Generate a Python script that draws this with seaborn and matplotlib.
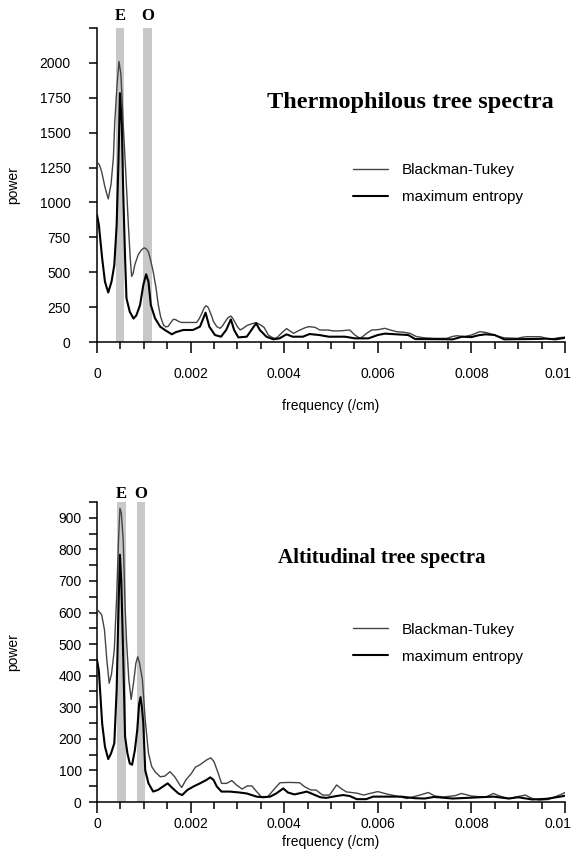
import matplotlib
matplotlib.use("Agg")
import matplotlib.pyplot as plt
from matplotlib.ticker import MultipleLocator, FuncFormatter
import numpy as np
import pandas as pd
import seaborn as sns

# ---- Thermophilous tree spectra ----
thermo_bt_freq = [0.00000, 0.00005, 0.00010, 0.00017, 0.00024, 0.00030, 0.00035, 0.00038, 0.00043, 0.00047,
                  0.00051, 0.00056, 0.00061, 0.00067, 0.00071, 0.00074, 0.00077, 0.00081, 0.00088, 0.00095,
                  0.00101, 0.00106, 0.00110, 0.00115, 0.00120, 0.00126, 0.00131, 0.00136, 0.00142, 0.00147,
                  0.00152, 0.00158, 0.00163, 0.00168, 0.00173, 0.00180, 0.00195, 0.00213, 0.00218, 0.00224,
                  0.00229, 0.00233, 0.00237, 0.00240, 0.00245, 0.00249, 0.00256, 0.00263, 0.00268, 0.00274,
                  0.00280, 0.00286, 0.00290, 0.00294, 0.00300, 0.00306, 0.00313, 0.00320, 0.00330, 0.00340,
                  0.00348, 0.00357, 0.00362, 0.00366, 0.00373, 0.00380, 0.00386, 0.00390, 0.00398, 0.00405,
                  0.00412, 0.00420, 0.00427, 0.00434, 0.00443, 0.00452, 0.00466, 0.00476, 0.00494, 0.00505,
                  0.00520, 0.00540, 0.00551, 0.00562, 0.00570, 0.00576, 0.00587, 0.00600, 0.00615, 0.00628,
                  0.00640, 0.00655, 0.00669, 0.00683, 0.00700, 0.00720, 0.00747, 0.00760, 0.00769, 0.00785,
                  0.00800, 0.00818, 0.00830, 0.00845, 0.00854, 0.00870, 0.00898, 0.00910, 0.00918, 0.00947,
                  0.00968, 0.00985, 0.01000]
thermo_bt_power = [1290, 1270, 1220, 1110, 1025, 1130, 1320, 1580, 1850, 2010,
                   1920, 1560, 1245, 840, 600, 470, 490, 555, 625, 660,
                   675, 665, 645, 580, 505, 390, 265, 180, 122, 108,
                   112, 140, 163, 160, 150, 140, 140, 140, 165, 205,
                   245, 260, 250, 229, 185, 146, 110, 98, 115, 146,
                   175, 186, 170, 146, 110, 86, 100, 117, 130, 139,
                   125, 105, 75, 50, 35, 26, 35, 50, 75, 96,
                   80, 62, 75, 86, 100, 110, 105, 86, 86, 79,
                   80, 86, 50, 26, 45, 62, 86, 88, 98, 85,
                   74, 70, 62, 38, 30, 26, 26, 40, 45, 38,
                   50, 74, 69, 55, 43, 30, 26, 35, 38, 38,
                   19, 30, 35]

thermo_me_freq = [0.00000, 0.00004, 0.00011, 0.00017, 0.00024, 0.00031, 0.00037, 0.00042, 0.00046, 0.00049,
                  0.00053, 0.00056, 0.00060, 0.00063, 0.00070, 0.00078, 0.00084, 0.00092, 0.00099, 0.00105,
                  0.00110, 0.00115, 0.00124, 0.00135, 0.00145, 0.00160, 0.00168, 0.00184, 0.00205, 0.00220,
                  0.00232, 0.00240, 0.00252, 0.00265, 0.00276, 0.00286, 0.00293, 0.00302, 0.00320, 0.00330,
                  0.00340, 0.00348, 0.00362, 0.00377, 0.00390, 0.00405, 0.00418, 0.00440, 0.00454, 0.00475,
                  0.00495, 0.00530, 0.00551, 0.00580, 0.00600, 0.00615, 0.00640, 0.00665, 0.00680, 0.00740,
                  0.00760, 0.00780, 0.00800, 0.00815, 0.00830, 0.00850, 0.00870, 0.00940, 0.00960, 0.00980,
                  0.01000]
thermo_me_power = [910, 839, 600, 432, 355, 432, 552, 839, 1317, 1783,
                   1556, 1077, 600, 313, 217, 168, 190, 265, 409, 485,
                   432, 265, 170, 110, 86, 55, 70, 86, 86, 110,
                   210, 110, 50, 38, 86, 162, 86, 33, 38, 86,
                   134, 86, 38, 19, 26, 55, 38, 38, 57, 50,
                   38, 38, 26, 26, 50, 60, 55, 50, 21, 20,
                   19, 38, 35, 48, 55, 50, 19, 22, 24, 19,
                   30]

# ---- Altitudinal tree spectra ----
alti_bt_freq = [0.00000, 0.00006, 0.00010, 0.00016, 0.00021, 0.00026, 0.00031, 0.00037, 0.00042, 0.00046,
                0.00049, 0.00052, 0.00056, 0.00060, 0.00063, 0.00068, 0.00073, 0.00078, 0.00083, 0.00087,
                0.00091, 0.00097, 0.00103, 0.00110, 0.00117, 0.00124, 0.00135, 0.00145, 0.00156, 0.00166,
                0.00177, 0.00181, 0.00190, 0.00202, 0.00210, 0.00220, 0.00234, 0.00243, 0.00250, 0.00259,
                0.00266, 0.00277, 0.00288, 0.00298, 0.00310, 0.00321, 0.00331, 0.00341, 0.00351, 0.00365,
                0.00380, 0.00391, 0.00410, 0.00433, 0.00443, 0.00457, 0.00468, 0.00482, 0.00497, 0.00512,
                0.00522, 0.00533, 0.00555, 0.00570, 0.00583, 0.00600, 0.00620, 0.00640, 0.00662, 0.00690,
                0.00708, 0.00722, 0.00740, 0.00765, 0.00779, 0.00800, 0.00830, 0.00847, 0.00860, 0.00880,
                0.00915, 0.00930, 0.00945, 0.00965, 0.00993, 0.01000]
alti_bt_power = [610, 600, 593, 545, 450, 376, 405, 482, 650, 830,
                 930, 915, 830, 619, 513, 387, 325, 376, 439, 460,
                 439, 387, 260, 154, 112, 96, 80, 82, 96, 80,
                 54, 46, 70, 91, 110, 118, 133, 140, 128, 91,
                 59, 59, 68, 54, 41, 51, 51, 33, 17, 17,
                 43, 61, 62, 61, 49, 38, 38, 22, 22, 54,
                 42, 32, 28, 22, 27, 33, 25, 19, 11, 22,
                 30, 19, 16, 20, 27, 19, 15, 27, 19, 11,
                 22, 11, 6, 8, 25, 30]

alti_me_freq = [0.00000, 0.00004, 0.00011, 0.00017, 0.00024, 0.00030, 0.00037, 0.00042, 0.00046, 0.00049,
                0.00052, 0.00056, 0.00060, 0.00065, 0.00070, 0.00075, 0.00081, 0.00086, 0.00090, 0.00093,
                0.00096, 0.00099, 0.00103, 0.00110, 0.00120, 0.00130, 0.00140, 0.00151, 0.00162, 0.00174,
                0.00182, 0.00193, 0.00206, 0.00220, 0.00234, 0.00242, 0.00249, 0.00256, 0.00266, 0.00284,
                0.00305, 0.00320, 0.00341, 0.00355, 0.00370, 0.00383, 0.00398, 0.00408, 0.00422, 0.00440,
                0.00448, 0.00458, 0.00477, 0.00490, 0.00512, 0.00526, 0.00540, 0.00555, 0.00575, 0.00590,
                0.00620, 0.00650, 0.00680, 0.00700, 0.00720, 0.00760, 0.00847, 0.00880, 0.00900, 0.00930,
                0.00960, 0.00990, 0.01000]
alti_me_power = [450, 415, 249, 175, 136, 154, 186, 355, 619, 783,
                 695, 460, 207, 154, 122, 118, 165, 228, 310, 332,
                 300, 249, 101, 59, 33, 38, 48, 59, 43, 27,
                 22, 38, 49, 59, 70, 78, 70, 49, 33, 33,
                 30, 27, 17, 15, 17, 27, 43, 30, 24, 30,
                 33, 27, 15, 13, 19, 22, 19, 9, 9, 17,
                 17, 17, 12, 11, 16, 11, 17, 11, 15, 8,
                 10, 17, 20]

# Marked frequency bands (E and O)
thermo_bands = {"E": (0.00040, 0.00058), "O": (0.00099, 0.00118)}
alti_bands = {"E": (0.00043, 0.00061), "O": (0.00085, 0.00103)}

series_names = ["Blackman-Tukey", "maximum entropy"]
panel_titles = ["Thermophilous tree spectra", "Altitudinal tree spectra"]
freq_max = 0.01

sns.set_style("ticks")
plt.rcParams["font.family"] = ["Liberation Sans", "DejaVu Sans"]
plt.rcParams["axes.linewidth"] = 1.1
plt.rcParams["text.color"] = "black"
plt.rcParams["axes.labelcolor"] = "black"
plt.rcParams["axes.edgecolor"] = "black"
plt.rcParams["xtick.color"] = "black"
plt.rcParams["ytick.color"] = "black"

fig = plt.figure(figsize=(5.72, 8.57), dpi=100)
ax_top = fig.add_axes([97 / 572, 1 - 342 / 857, 468 / 572, 314 / 857])
ax_bot = fig.add_axes([97 / 572, 1 - 802 / 857, 468 / 572, 300 / 857])


def long_frame(bt_f, bt_p, me_f, me_p):
    return pd.concat([
        pd.DataFrame({"freq": bt_f, "power": bt_p, "method": series_names[0]}),
        pd.DataFrame({"freq": me_f, "power": me_p, "method": series_names[1]}),
    ], ignore_index=True)


def freq_label(v, pos):
    if abs(v) < 1e-12:
        return "0"
    if abs(v - freq_max) < 1e-12:
        return ""  # drawn separately so it stays inside the figure
    return f"{v:g}"


panels = [
    dict(ax=ax_top, df=long_frame(thermo_bt_freq, thermo_bt_power, thermo_me_freq, thermo_me_power),
         bands=thermo_bands, ytop=2250, ymajor=250, yminor=None, title=panel_titles[0],
         tpos=(0.669, 0.764), tsize=17.5, leg=(0.547, 0.570), xpad=10, ypad=13, xlpad=13, letter_y=1.012),
    dict(ax=ax_bot, df=long_frame(alti_bt_freq, alti_bt_power, alti_me_freq, alti_me_power),
         bands=alti_bands, ytop=950, ymajor=100, yminor=50, title=panel_titles[1],
         tpos=(0.609, 0.813), tsize=15, leg=(0.547, 0.598), xpad=3, ypad=5, xlpad=3, letter_y=1.0),
]

for p in panels:
    ax = p["ax"]
    for lab, (lo, hi) in p["bands"].items():
        ax.axvspan(lo, hi, ymin=0, ymax=1, color="#c8c8c8", lw=0, zorder=0)
        ax.text((lo + hi) / 2, p["letter_y"], lab, transform=ax.get_xaxis_transform(),
                ha="center", va="bottom", fontsize=12, fontweight="bold",
                family="Liberation Serif", color="black")
    sns.lineplot(data=p["df"], x="freq", y="power", hue="method", size="method",
                 hue_order=series_names, size_order=series_names,
                 palette={series_names[0]: "#444444", series_names[1]: "#000000"},
                 sizes={series_names[0]: 1.0, series_names[1]: 1.5},
                 estimator=None, ax=ax, zorder=3)
    ytop = p["ytop"]
    ax.set_xlim(0, freq_max)
    ax.set_ylim(0, ytop)
    sns.despine(ax=ax)
    ax.xaxis.set_major_locator(MultipleLocator(0.002))
    ax.xaxis.set_minor_locator(MultipleLocator(0.0005))
    ax.xaxis.set_major_formatter(FuncFormatter(freq_label))
    ax.yaxis.set_major_locator(MultipleLocator(p["ymajor"]))
    if p["yminor"]:
        ax.yaxis.set_minor_locator(MultipleLocator(p["yminor"]))
    ax.yaxis.set_major_formatter(FuncFormatter(lambda v, pos, t=ytop: "" if v >= t - 1e-9 else f"{v:g}"))
    ax.tick_params(axis="x", which="major", direction="out", length=8, width=1.1,
                   labelsize=10, pad=p["xpad"], colors="black")
    ax.tick_params(axis="x", which="minor", direction="out", length=5, width=1.1, colors="black")
    ax.tick_params(axis="y", which="both", direction="out", length=6, width=1.1,
                   labelsize=10, pad=p["ypad"], colors="black")
    # last frequency label, nudged left of its tick
    ax.annotate(f"{freq_max:g}", xy=(freq_max, 0), xycoords=("data", "axes fraction"),
                xytext=(-5, -(8 + p["xpad"])), textcoords="offset points",
                ha="center", va="top", fontsize=10, color="black")
    ax.set_xlabel("frequency (/cm)", fontsize=10, labelpad=p["xlpad"], color="black")
    ax.set_ylabel("power", fontsize=10, color="black")
    ax.yaxis.set_label_coords(-0.165, 0.5)
    ax.text(*p["tpos"], p["title"], transform=ax.transAxes,
            ha="center", va="center", fontsize=p["tsize"], fontweight="bold",
            family="Liberation Serif", color="black")
    leg = ax.legend(frameon=False, loc="upper left", bbox_to_anchor=p["leg"],
                    borderaxespad=0, borderpad=0,
                    fontsize=11, handlelength=2.3, handletextpad=0.9, labelspacing=0.85)
    for t in leg.get_texts():
        t.set_color("black")

fig.savefig("out.png", dpi=100)
